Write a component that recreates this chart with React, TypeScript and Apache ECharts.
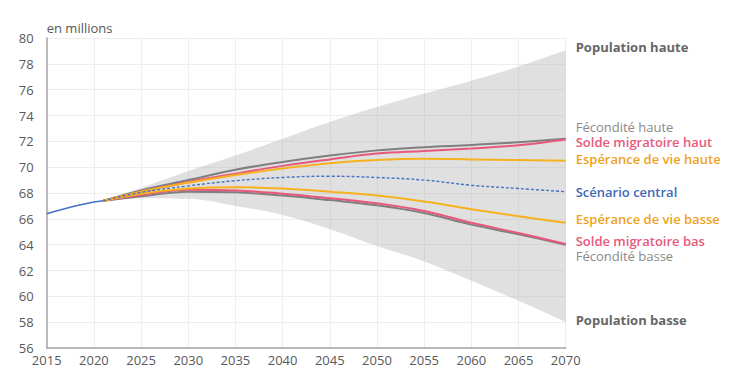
import React, { useEffect, useRef } from "react";
import * as echarts from "echarts";

const firstYear = 2015;
const lastYear = 2070;

const histYears = [2015, 2016, 2017, 2018, 2019, 2020, 2021];
const histValues = [66.4, 66.6, 66.8, 67.0, 67.15, 67.3, 67.4];

const projYears = [2021, 2025, 2030, 2035, 2040, 2045, 2050, 2055, 2060, 2065, 2070];
const central = [67.4, 68.05, 68.55, 68.95, 69.2, 69.3, 69.2, 69.0, 68.6, 68.35, 68.1];
const feconditeHaute = [67.4, 68.2, 69.0, 69.8, 70.4, 70.9, 71.3, 71.55, 71.72, 71.93, 72.2];
const feconditeBasse = [67.4, 67.75, 68.1, 68.05, 67.8, 67.45, 67.05, 66.45, 65.55, 64.8, 64.0];
const soldeHaut = [67.4, 68.1, 68.85, 69.5, 70.1, 70.6, 71.05, 71.25, 71.45, 71.7, 72.15];
const soldeBas = [67.4, 67.85, 68.25, 68.2, 67.95, 67.6, 67.2, 66.6, 65.7, 64.9, 64.05];
const esperanceHaute = [67.4, 68.1, 68.8, 69.4, 69.9, 70.3, 70.55, 70.65, 70.6, 70.55, 70.5];
const esperanceBasse = [67.4, 67.95, 68.35, 68.45, 68.35, 68.1, 67.8, 67.35, 66.75, 66.2, 65.7];
const populationHaute = [67.4, 68.4, 69.7, 70.9, 72.2, 73.5, 74.65, 75.7, 76.7, 77.8, 79.05];
const populationBasse = [67.4, 67.6, 67.55, 67.0, 66.3, 65.2, 63.9, 62.7, 61.2, 59.65, 58.0];

const GREY = "#7f7f7f";
const PINK = "#e8587c";
const ORANGE = "#f7b11e";
const BLUE = "#4472c4";
const FONT = "'Open Sans', sans-serif";

const categories: string[] = [];
for (let y = firstYear; y <= lastYear; y++) categories.push(String(y));

function pairs(xs: number[], ys: number[]) {
  return xs.map((x, i) => [String(x), ys[i]]);
}

function endLabel(text: string, color: string, weight: any, dy: number) {
  return {
    show: true,
    formatter: text,
    color,
    fontFamily: FONT,
    fontSize: 13,
    lineHeight: 13,
    fontWeight: weight,
    distance: 10,
    offset: [0, dy],
  };
}

function projLine(
  name: string,
  values: number[],
  color: string,
  labelColor: string,
  dy: number,
  bold: boolean
) {
  return {
    name,
    type: "line",
    data: pairs(projYears, values),
    smooth: 0.4,
    symbol: "none",
    lineStyle: { color, width: 2 },
    z: 3,
    endLabel: endLabel(name, labelColor, bold ? 600 : "normal", dy),
  };
}

export default function App() {
  const ref = useRef<HTMLDivElement>(null);
  useEffect(() => {
    if (!ref.current) return;
    const chart = echarts.init(ref.current, null, { renderer: "svg" });
    const bandDiff = populationHaute.map((v, i) => v - populationBasse[i]);
    chart.setOption({
      animation: false,
      grid: { left: 46.7, right: 179.3, top: 38, bottom: 40 },
      xAxis: {
        type: "category",
        data: categories,
        boundaryGap: false,
        axisLine: { show: true, lineStyle: { color: "#a6a6a6", width: 1.5 } },
        axisTick: { show: false },
        axisLabel: {
          color: "#595959",
          fontFamily: FONT,
          fontSize: 13,
          margin: 5,
          interval: 4,
        },
        splitLine: { show: true, interval: 4, lineStyle: { color: "#eeeeee", width: 1 } },
      },
      yAxis: {
        type: "value",
        min: 56,
        max: 80,
        interval: 2,
        name: "en millions",
        nameLocation: "end",
        nameGap: 4,
        nameTextStyle: {
          color: "#595959",
          fontFamily: FONT,
          fontSize: 13,
          align: "left",
        },
        axisLine: { show: true, lineStyle: { color: "#a6a6a6", width: 1.5 } },
        axisTick: { show: false },
        axisLabel: { color: "#595959", fontFamily: FONT, fontSize: 13, margin: 13 },
        splitLine: { show: true, lineStyle: { color: "#eeeeee", width: 1 } },
      },
      series: [
        {
          name: "Population basse",
          type: "line",
          stack: "band",
          data: pairs(projYears, populationBasse),
          smooth: 0.4,
          symbol: "none",
          lineStyle: { width: 0, opacity: 0 },
          z: 1,
          endLabel: endLabel("Population basse", "#666666", "bold", -2),
        },
        {
          name: "Population haute",
          type: "line",
          stack: "band",
          data: pairs(projYears, bandDiff),
          smooth: 0.4,
          symbol: "none",
          lineStyle: { width: 0, opacity: 0 },
          areaStyle: { color: "rgba(170,170,170,0.36)", opacity: 1 },
          z: 1,
          endLabel: endLabel("Population haute", "#666666", "bold", -3),
        },
        projLine("Fécondité haute", feconditeHaute, GREY, "#8a8a8a", -12, false),
        projLine("Fécondité basse", feconditeBasse, GREY, "#8a8a8a", 11, false),
        projLine("Solde migratoire haut", soldeHaut, PINK, "#e8587c", 3, true),
        projLine("Solde migratoire bas", soldeBas, PINK, "#e8587c", -3, true),
        projLine("Espérance de vie haute", esperanceHaute, ORANGE, "#f0a21a", -2, true),
        projLine("Espérance de vie basse", esperanceBasse, ORANGE, "#f0a21a", -4, true),
        {
          name: "Scénario central",
          type: "line",
          data: pairs(projYears, central),
          smooth: 0.4,
          symbol: "none",
          lineStyle: { color: BLUE, width: 1.4, type: [3, 2] },
          z: 4,
          endLabel: endLabel("Scénario central", "#3f68b8", 600, 0),
        },
        {
          name: "Historique",
          type: "line",
          data: pairs(histYears, histValues),
          symbol: "none",
          lineStyle: { color: BLUE, width: 1.6 },
          z: 4,
        },
      ],
    });
    return () => chart.dispose();
  }, []);
  return (
    <div
      ref={ref}
      style={{ position: "fixed", left: 0, top: 0, width: 745, height: 388, background: "#fff" }}
    />
  );
}
